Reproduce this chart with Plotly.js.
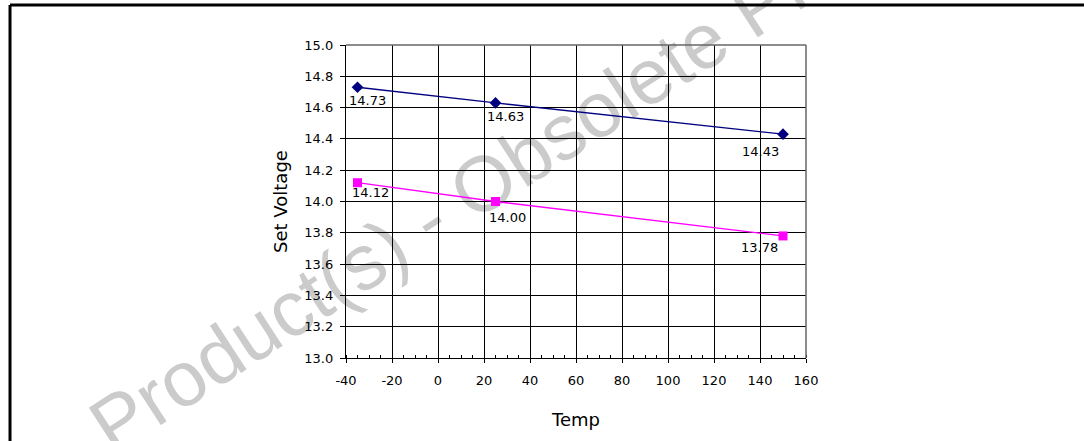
<!DOCTYPE html>
<html>
<head>
<meta charset="utf-8">
<script src="https://cdn.plot.ly/plotly-3.0.1.min.js"></script>
<style>html,body{margin:0;padding:0;background:#fff;}#chart{width:1084px;height:441px;}</style>
</head>
<body>
<div id="chart"></div>
<script>
// Data
const temps = [-35, 25, 150];
const seriesA = [14.73, 14.63, 14.43];
const seriesB = [14.12, 14.00, 13.78];
const xTickVals = [-40, -20, 0, 20, 40, 60, 80, 100, 120, 140, 160];
const xTickText = ['-40', '-20', '0', '20', '40', '60', '80', '100', '120', '140', '160'];
const labelShiftA = [[10, -13], [10, -14], [-23, -17]];
const labelShiftB = [[13, -10], [12, -16], [-24, -12]];
const xTitle = 'Temp';
const yTitle = 'Set Voltage';
const watermark = 'Product(s) - Obsolete Product(s)';

const FONT = 'DejaVu Sans, Liberation Sans, Arial, sans-serif';

const traces = [
  {x: temps, y: seriesA, type: 'scatter', mode: 'lines+markers',
   line: {color: '#000080', width: 1.3},
   marker: {symbol: 'diamond', size: 9, color: '#000080'}, hoverinfo: 'none'},
  {x: temps, y: seriesB, type: 'scatter', mode: 'lines+markers',
   line: {color: '#ff00ff', width: 1.3},
   marker: {symbol: 'square', size: 9, color: '#ff00ff'}, hoverinfo: 'none'}
];

const annotations = [];
function addLabels(vals, shifts) {
  vals.forEach((v, i) => {
    annotations.push({x: temps[i], y: v, xref: 'x', yref: 'y', text: v.toFixed(2),
      showarrow: false, xanchor: 'center', yanchor: 'middle',
      xshift: shifts[i][0], yshift: shifts[i][1],
      font: {family: FONT, size: 13, color: '#000'}});
  });
}
addLabels(seriesA, labelShiftA);
addLabels(seriesB, labelShiftB);

const shapes = [
  // watermark (beneath the grid)
  {type: 'rect', xref: 'paper', yref: 'paper', x0: 0.466, x1: 0.486, y0: 0.744, y1: 0.764,
   line: {width: 0}, fillcolor: 'rgba(0,0,0,0)', layer: 'below',
   label: {text: watermark, textangle: -33, textposition: 'middle center',
           font: {family: 'Liberation Sans, Arial, sans-serif', size: 78, color: '#cbcbcb'}}},
  // outer frame (top and left)
  {type: 'line', xref: 'paper', yref: 'paper', x0: -0.7304, x1: 1.61, y0: 1.1278, y1: 1.1278,
   line: {color: '#000', width: 3}},
  {type: 'line', xref: 'paper', yref: 'paper', x0: -0.7304, x1: -0.7304, y0: 1.1278, y1: -0.3,
   line: {color: '#000', width: 3}},
  // plot frame top/right
  {type: 'line', xref: 'paper', yref: 'paper', x0: 0, x1: 1, y0: 1, y1: 1,
   line: {color: '#666', width: 1.5}},
  {type: 'line', xref: 'paper', yref: 'paper', x0: 1, x1: 1, y0: 0, y1: 1,
   line: {color: '#666', width: 1.5}}
];

const layout = {
  width: 1084, height: 441,
  margin: {l: 346, r: 278, t: 45, b: 83, pad: 0},
  paper_bgcolor: '#fff', plot_bgcolor: 'rgba(0,0,0,0)',
  showlegend: false,
  font: {family: FONT, size: 13, color: '#000'},
  xaxis: {
    range: [-40, 160], tickmode: 'array', tickvals: xTickVals, ticktext: xTickText,
    showgrid: true, gridcolor: '#000', gridwidth: 1,
    zeroline: false, showline: true, linecolor: '#000', linewidth: 1.2,
    ticks: 'outside', ticklen: 4, tickcolor: '#000', ticklabelstandoff: 6,
    minor: {dtick: 5, tick0: -40, ticks: 'inside', ticklen: 3, tickcolor: '#000', showgrid: false},
    tickfont: {family: FONT, size: 13, color: '#000'},
    title: {text: xTitle, standoff: 26, font: {family: FONT, size: 18, color: '#000'}}
  },
  yaxis: {
    range: [13, 15], dtick: 0.2, tick0: 13, tickformat: '.1f',
    showgrid: true, gridcolor: '#000', gridwidth: 1,
    zeroline: false, showline: true, linecolor: '#000', linewidth: 1.2,
    ticks: 'outside', ticklen: 5, tickcolor: '#000', ticklabelstandoff: 4,
    tickfont: {family: FONT, size: 13, color: '#000'},
    title: {text: yTitle, standoff: 12, font: {family: FONT, size: 18, color: '#000'}}
  },
  annotations: annotations,
  shapes: shapes
};

Plotly.newPlot('chart', traces, layout, {staticPlot: true, displayModeBar: false});
</script>
</body>
</html>
